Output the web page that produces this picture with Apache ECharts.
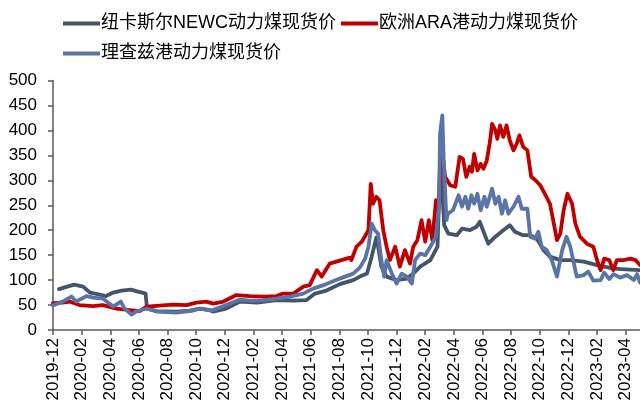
<!DOCTYPE html>
<html>
<head>
<meta charset="utf-8">
<script src="https://cdn.jsdelivr.net/npm/echarts@6/dist/echarts.min.js"></script>
<style>
html, body { margin: 0; padding: 0; background: #fff; }
#chart { width: 640px; height: 410px; }
</style>
</head>
<body>
<div id="chart"></div>
<script>
// series names
const seriesNames = ["纽卡斯尔NEWC动力煤现货价", "欧洲ARA港动力煤现货价", "理查兹港动力煤现货价"];

// x axis labels (every 2 months)
const xTickLabels = ["2019-12", "2020-02", "2020-04", "2020-06", "2020-08", "2020-10", "2020-12",
  "2021-02", "2021-04", "2021-06", "2021-08", "2021-10", "2021-12",
  "2022-02", "2022-04", "2022-06", "2022-08", "2022-10", "2022-12",
  "2023-02", "2023-04"];

// 纽卡斯尔NEWC
const newcDates = ["2019-12-14", "2019-12-28", "2020-01-16", "2020-02-04", "2020-02-18", "2020-03-09", "2020-03-23",
  "2020-04-07", "2020-04-25", "2020-05-15", "2020-05-30", "2020-06-08", "2020-06-15", "2020-06-18", "2020-07-08",
  "2020-08-20", "2020-09-18", "2020-10-08", "2020-10-30", "2020-11-06", "2020-12-04", "2021-01-03", "2021-02-08",
  "2021-03-20", "2021-04-24", "2021-05-23", "2021-06-10", "2021-07-04", "2021-08-02", "2021-08-31", "2021-09-14",
  "2021-09-29", "2021-10-09", "2021-10-19", "2021-10-23", "2021-10-30", "2021-11-10", "2021-12-01", "2021-12-23",
  "2022-01-06", "2022-01-21", "2022-02-11", "2022-02-25", "2022-03-01", "2022-03-04", "2022-03-08", "2022-03-11",
  "2022-03-20", "2022-04-07", "2022-04-18", "2022-05-05", "2022-05-19", "2022-05-26", "2022-06-06", "2022-06-13",
  "2022-06-28", "2022-07-15", "2022-07-29", "2022-08-09", "2022-08-27", "2022-09-11", "2022-09-25", "2022-10-09",
  "2022-10-23", "2022-11-14", "2022-12-05", "2023-01-03", "2023-02-01", "2023-03-06", "2023-04-10", "2023-05-01"];
const newcValues = [82, 86, 91, 87, 75, 71, 68,
  75, 79, 81, 77, 75, 73, 43, 38,
  37, 39, 43, 40, 37, 43, 57, 55,
  60, 59, 60, 73, 79, 92, 100, 107,
  113, 147, 185, 167, 127, 107, 100, 103,
  113, 127, 140, 167, 300, 385, 260, 210,
  193, 190, 203, 200, 207, 217, 190, 173,
  187, 200, 210, 197, 190, 190, 183, 160,
  147, 140, 140, 137, 130, 123, 121, 120];

// 欧洲ARA港
const araDates = ["2019-12-01", "2019-12-22", "2020-01-06", "2020-01-27", "2020-02-24", "2020-03-16", "2020-04-14",
  "2020-05-12", "2020-06-03", "2020-06-17", "2020-07-15", "2020-08-13", "2020-09-11", "2020-10-01", "2020-10-23",
  "2020-11-07", "2020-11-28", "2020-12-26", "2021-01-24", "2021-02-22", "2021-03-20", "2021-04-03", "2021-04-25",
  "2021-05-16", "2021-05-30", "2021-06-14", "2021-06-24", "2021-07-11", "2021-08-09", "2021-08-24", "2021-08-27",
  "2021-09-07", "2021-09-18", "2021-10-02", "2021-10-07", "2021-10-12", "2021-10-19", "2021-10-26", "2021-11-03",
  "2021-11-10", "2021-11-17", "2021-11-28", "2021-12-08", "2021-12-19", "2021-12-30", "2022-01-06", "2022-01-15",
  "2022-01-24", "2022-02-01", "2022-02-08", "2022-02-15", "2022-02-22", "2022-02-28", "2022-03-04", "2022-03-13",
  "2022-03-24", "2022-04-04", "2022-04-13", "2022-04-20", "2022-04-27", "2022-05-04", "2022-05-09", "2022-05-14",
  "2022-05-21", "2022-05-28", "2022-06-03", "2022-06-10", "2022-06-17", "2022-06-21", "2022-06-28", "2022-07-02",
  "2022-07-08", "2022-07-15", "2022-07-22", "2022-07-29", "2022-08-06", "2022-08-13", "2022-08-19", "2022-08-27",
  "2022-09-05", "2022-09-13", "2022-09-22", "2022-10-02", "2022-10-12", "2022-10-23", "2022-10-30", "2022-11-07",
  "2022-11-14", "2022-11-21", "2022-11-29", "2022-12-09", "2022-12-16", "2022-12-26", "2023-01-10", "2023-01-24",
  "2023-02-01", "2023-02-08", "2023-02-15", "2023-02-25", "2023-03-05", "2023-03-13", "2023-03-27", "2023-04-11",
  "2023-04-22", "2023-05-01"];
const araValues = [54, 55, 57, 50, 48, 50, 43,
  40, 38, 47, 49, 51, 50, 55, 57,
  53, 57, 70, 68, 67, 68, 73, 73,
  87, 90, 120, 107, 133, 141, 145, 140,
  167, 177, 200, 293, 253, 267, 260, 200,
  167, 140, 167, 127, 160, 133, 167, 180,
  220, 177, 220, 180, 260, 247, 380, 307,
  290, 287, 347, 343, 307, 327, 317, 353,
  320, 333, 323, 340, 380, 413, 400, 383,
  410, 387, 410, 380, 360, 373, 390, 367,
  360, 307, 300, 290, 273, 253, 220, 180,
  193, 240, 273, 253, 213, 187, 173, 167,
  140, 120, 143, 140, 120, 140, 140, 143,
  140, 130];

// 理查兹港
const rbDates = ["2019-12-01", "2019-12-22", "2020-01-10", "2020-01-20", "2020-02-11", "2020-02-24", "2020-03-16",
  "2020-04-07", "2020-04-23", "2020-05-01", "2020-05-16", "2020-05-26", "2020-06-17", "2020-07-08", "2020-08-20",
  "2020-09-25", "2020-10-09", "2020-10-30", "2020-11-06", "2020-12-04", "2021-01-03", "2021-01-24", "2021-02-15",
  "2021-03-20", "2021-04-18", "2021-05-16", "2021-06-06", "2021-07-04", "2021-08-02", "2021-08-31", "2021-09-14",
  "2021-09-25", "2021-10-02", "2021-10-09", "2021-10-16", "2021-10-23", "2021-10-30", "2021-11-05", "2021-11-10",
  "2021-11-21", "2021-12-01", "2021-12-12", "2021-12-23", "2022-01-03", "2022-01-10", "2022-01-21", "2022-02-01",
  "2022-02-11", "2022-02-22", "2022-02-28", "2022-03-02", "2022-03-07", "2022-03-10", "2022-03-16", "2022-03-19",
  "2022-03-30", "2022-04-11", "2022-04-18", "2022-04-25", "2022-05-01", "2022-05-08", "2022-05-14", "2022-05-21",
  "2022-05-28", "2022-06-05", "2022-06-10", "2022-06-21", "2022-06-28", "2022-07-05", "2022-07-12", "2022-07-19",
  "2022-07-26", "2022-08-06", "2022-08-17", "2022-08-24", "2022-09-05", "2022-09-11", "2022-09-21", "2022-09-28",
  "2022-10-05", "2022-10-16", "2022-10-27", "2022-11-07", "2022-11-18", "2022-11-27", "2022-12-05", "2022-12-19",
  "2023-01-03", "2023-01-13", "2023-01-24", "2023-02-08", "2023-02-15", "2023-02-25", "2023-03-06", "2023-03-20",
  "2023-04-04", "2023-04-18", "2023-04-25", "2023-05-01"];
const rbValues = [49, 57, 67, 57, 68, 65, 63,
  47, 57, 43, 31, 37, 43, 37, 35,
  39, 43, 40, 40, 50, 61, 59, 59,
  63, 67, 73, 83, 92, 103, 113, 125,
  143, 167, 213, 200, 193, 140, 107, 140,
  113, 93, 113, 107, 93, 140, 153, 150,
  167, 187, 247, 393, 430, 340, 220, 233,
  240, 270, 247, 267, 243, 270, 253, 273,
  240, 267, 247, 283, 253, 267, 233, 260,
  233, 247, 267, 243, 243, 187, 183, 197,
  167, 160, 140, 107, 160, 187, 167, 107,
  110, 117, 99, 100, 115, 102, 112, 105,
  110, 100, 112, 95];

// date string -> months since 2019-12-01
function toMonth(s) {
  const p = s.split("-").map(Number);
  const dim = new Date(p[0], p[1], 0).getDate();
  return (p[0] - 2019) * 12 + (p[1] - 12) + (p[2] - 1) / dim;
}
function pairs(dates, values) {
  return dates.map((d, i) => [toMonth(d), values[i]]);
}

const tickValues = xTickLabels.map(l => toMonth(l + "-01"));
const FONT = 'Arial, "Liberation Sans", "Noto Sans CJK SC", sans-serif';
const colors = ["#44546A", "#C00000", "#5A74A8"];

let myChart = echarts.init(document.getElementById("chart"));

var option = {
  animation: false,
  color: colors,
  textStyle: { fontFamily: FONT },
  legend: {
    left: 58,
    top: 6,
    width: 540,
    itemWidth: 37,
    itemHeight: 4,
    itemGap: 5,
    icon: "rect",
    data: seriesNames,
    textStyle: {
      fontFamily: FONT,
      fontSize: 18,
      color: "#000",
      lineHeight: 25,
      padding: [0, 0, 0, -4]
    }
  },
  grid: {
    left: 53,
    right: 0,
    top: 80.5,
    bottom: 80,
    containLabel: false
  },
  xAxis: {
    type: "value",
    min: 0,
    max: toMonth("2023-05-01"),
    splitLine: { show: false },
    axisLine: { show: true, onZero: false, lineStyle: { color: "#595959", width: 1.5 } },
    axisTick: {
      show: true,
      customValues: tickValues,
      length: 5,
      lineStyle: { color: "#595959", width: 1.5 }
    },
    axisLabel: {
      customValues: tickValues,
      rotate: 90,
      margin: 8,
      fontSize: 17,
      color: "#000",
      fontFamily: FONT,
      formatter: function (v) {
        const i = tickValues.findIndex(t => Math.abs(t - v) < 0.01);
        return i >= 0 ? xTickLabels[i] : "";
      }
    }
  },
  yAxis: {
    type: "value",
    min: 0,
    max: 500,
    interval: 50,
    splitLine: { show: false },
    axisLine: { show: true, lineStyle: { color: "#595959", width: 1.5 } },
    axisTick: { show: true, length: 5, lineStyle: { color: "#595959", width: 1.5 } },
    axisLabel: {
      margin: 16,
      fontSize: 17,
      color: "#000",
      fontFamily: FONT
    }
  },
  series: [
    {
      name: seriesNames[0],
      type: "line",
      symbol: "none",
      data: pairs(newcDates, newcValues),
      lineStyle: { width: 3.8, cap: "round", join: "round" }
    },
    {
      name: seriesNames[1],
      type: "line",
      symbol: "none",
      data: pairs(araDates, araValues),
      lineStyle: { width: 3.8, cap: "round", join: "round" }
    },
    {
      name: seriesNames[2],
      type: "line",
      symbol: "none",
      data: pairs(rbDates, rbValues),
      lineStyle: { width: 3.8, cap: "round", join: "round" }
    }
  ]
};

myChart.setOption(option);
</script>
</body>
</html>
